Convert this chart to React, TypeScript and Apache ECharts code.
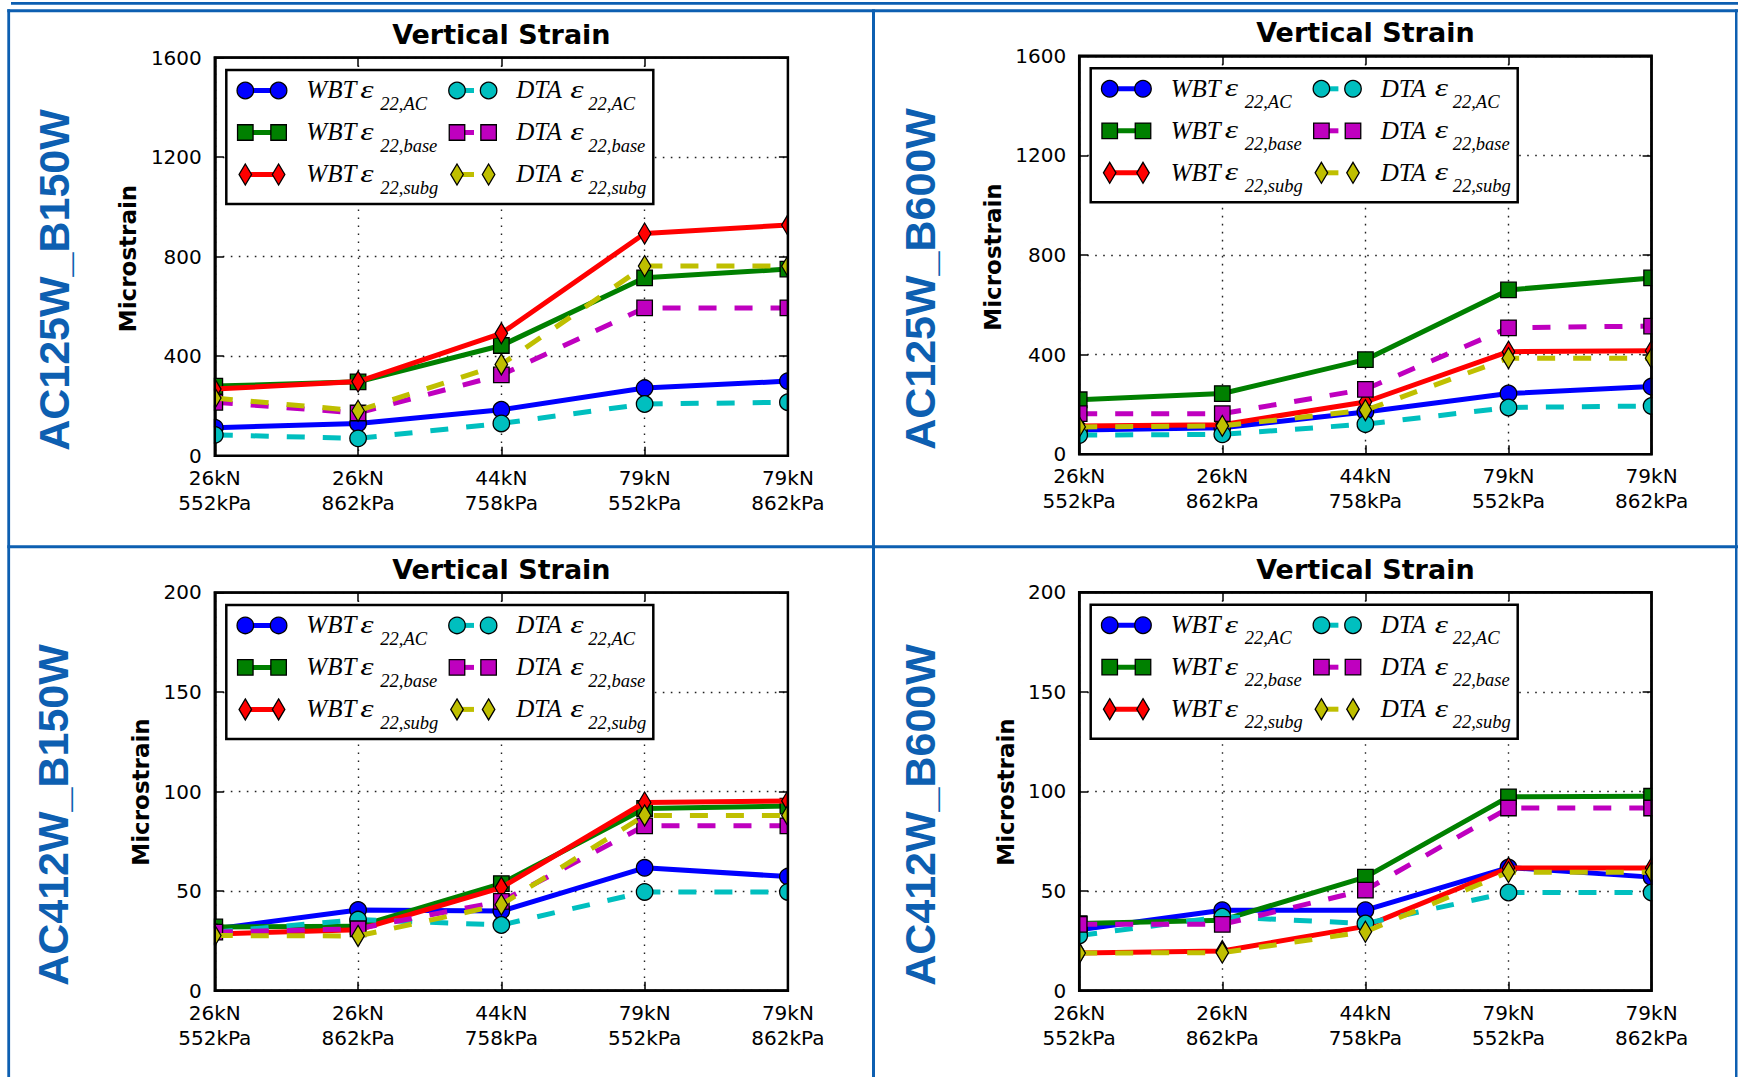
import React, { useEffect, useRef } from "react";
import * as echarts from "echarts";

// ---------- data ----------
const categories = ["26kN\n552kPa", "26kN\n862kPa", "44kN\n758kPa", "79kN\n552kPa", "79kN\n862kPa"];

const panelNames = ["AC125W_B150W", "AC125W_B600W", "AC412W_B150W", "AC412W_B600W"];
const chartTitle = "Vertical Strain";
const yAxisTitle = "Microstrain";
const yMax = [1600, 1600, 200, 200];
const yInterval = [400, 400, 50, 50];

const seriesPrefix = ["WBT", "WBT", "WBT", "DTA", "DTA", "DTA"];
const seriesSub = ["22,AC", "22,base", "22,subg", "22,AC", "22,base", "22,subg"];

// AC125W_B150W
const wbtAC_A = [113, 130, 185, 272, 300];
const wbtBase_A = [280, 297, 443, 715, 750];
const wbtSubg_A = [268, 298, 492, 893, 927];
const dtaAC_A = [84, 70, 130, 208, 215];
const dtaBase_A = [215, 172, 325, 594, 594];
const dtaSubg_A = [232, 181, 367, 762, 762];

// AC125W_B600W
const wbtAC_B = [98, 107, 170, 244, 272];
const wbtBase_B = [219, 244, 380, 660, 708];
const wbtSubg_B = [114, 119, 210, 412, 416];
const dtaAC_B = [77, 80, 121, 188, 194];
const dtaBase_B = [163, 163, 261, 508, 515];
const dtaSubg_B = [110, 114, 177, 386, 386];

// AC412W_B150W
const wbtAC_C = [31, 40.5, 40, 61.7, 57.3];
const wbtBase_C = [32, 32.3, 53.8, 91.5, 92.7];
const wbtSubg_C = [28.5, 30.6, 51.8, 94.5, 95.3];
const dtaAC_C = [29.4, 35.7, 33, 49.6, 49.6];
const dtaBase_C = [29.4, 31.1, 44.9, 82.8, 82.8];
const dtaSubg_C = [27.7, 27.5, 43.2, 88, 88];

// AC412W_B600W
const wbtAC_D = [30.6, 40.4, 40.4, 61.8, 57];
const wbtBase_D = [33.7, 35.4, 57, 97.3, 97.6];
const wbtSubg_D = [18.9, 19.9, 32.3, 61.6, 61.6];
const dtaAC_D = [27.7, 37.1, 33.7, 49.3, 49.3];
const dtaBase_D = [33.3, 33.3, 50.5, 91.7, 91.7];
const dtaSubg_D = [18.9, 19.1, 29.6, 59.5, 59.5];

const panelData = [
  [wbtAC_A, wbtBase_A, wbtSubg_A, dtaAC_A, dtaBase_A, dtaSubg_A],
  [wbtAC_B, wbtBase_B, wbtSubg_B, dtaAC_B, dtaBase_B, dtaSubg_B],
  [wbtAC_C, wbtBase_C, wbtSubg_C, dtaAC_C, dtaBase_C, dtaSubg_C],
  [wbtAC_D, wbtBase_D, wbtSubg_D, dtaAC_D, dtaBase_D, dtaSubg_D],
];

// ---------- styles / layout ----------
const STYLES = [
  { color: "#0000ff", symbol: "circle", dash: false },
  { color: "#008000", symbol: "rect", dash: false },
  { color: "#ff0000", symbol: "diamond", dash: false },
  { color: "#00bfbf", symbol: "circle", dash: true },
  { color: "#bf00bf", symbol: "rect", dash: true },
  { color: "#bfbf00", symbol: "diamond", dash: true },
];
const symSize = (s: string): any => (s === "circle" ? 16.5 : s === "rect" ? 15.5 : [12.5, 21]);

const PANELS = [
  { left: 214.8, top: 57.5, width: 573.1, height: 398.3, tag: [54, 280], yName: [128, 258.5] },
  { left: 1079.2, top: 55.8, width: 572.4, height: 398.5, tag: [919.7, 279], yName: [993, 257] },
  { left: 214.8, top: 592.4, width: 573.1, height: 398.3, tag: [52.7, 815], yName: [141, 792] },
  { left: 1079.2, top: 592.2, width: 572.4, height: 398.5, tag: [919.8, 815], yName: [1006, 792] },
];

const BLUE = "#0d5fb1";
const GRID_LINE = { color: "#222", width: 1.4, type: [1.6, 6.4] as any, cap: "butt" as any };
const TICK_FONT = { color: "#000", fontFamily: "DejaVu Sans", fontSize: 20 };

function legendMarker(kind: string, cx: number, cy: number, color: string, z: number): any {
  const style = { fill: color, stroke: "#000", lineWidth: 1.3 };
  if (kind === "circle") return { type: "circle", shape: { cx, cy, r: 8.25 }, style, z, silent: true };
  if (kind === "rect")
    return { type: "rect", shape: { x: cx - 7.75, y: cy - 7.75, width: 15.5, height: 15.5 }, style, z, silent: true };
  return {
    type: "polygon",
    shape: { points: [[cx, cy - 10.5], [cx + 6.25, cy], [cx, cy + 10.5], [cx - 6.25, cy]] },
    style,
    z,
    silent: true,
  };
}

function txt(x: number, y: number, text: string, font: string, extra: any = {}): any {
  return {
    type: "text",
    x,
    y,
    silent: true,
    z: extra.z ?? 110,
    rotation: extra.rotation ?? 0,
    scaleX: extra.scaleX ?? 1,
    style: {
      text,
      font,
      fill: extra.fill ?? "#000",
      textAlign: extra.align ?? "center",
      textVerticalAlign: "middle",
      align: extra.align ?? "center",
      verticalAlign: "middle",
    },
  };
}

function buildOption() {
  const grid: any[] = [];
  const xAxis: any[] = [];
  const yAxis: any[] = [];
  const series: any[] = [];
  const graphic: any[] = [];

  // blue frame
  const frameRects = [
    { x: 11, y: 2, width: 1727, height: 2.8 },
    { x: 7.3, y: 9.3, width: 1730.7, height: 3 },
    { x: 7.3, y: 9.3, width: 2.8, height: 1068 },
    { x: 872, y: 9.3, width: 3, height: 1068 },
    { x: 7.3, y: 545.3, width: 1730.7, height: 3 },
    { x: 1735, y: 9.3, width: 2.5, height: 1068 },
  ];
  frameRects.forEach((r) => graphic.push({ type: "rect", shape: r, style: { fill: BLUE }, z: 200, silent: true }));

  PANELS.forEach((p, g) => {
    grid.push({ left: p.left, top: p.top, width: p.width, height: p.height, containLabel: false });

    const axisLine = { show: true, onZero: false, lineStyle: { color: "#000", width: 2.5 } };
    const tick = { show: true, inside: true, length: 9, lineStyle: { color: "#000", width: 1.5 } };

    xAxis.push({
      type: "category",
      gridIndex: g,
      position: "bottom",
      data: categories,
      boundaryGap: false,
      axisLine,
      axisTick: { ...tick, interval: 0 },
      axisLabel: { show: true, interval: 0, margin: 9.4, lineHeight: 25, ...TICK_FONT },
      splitLine: { show: true, interval: 0, lineStyle: GRID_LINE },
    });
    xAxis.push({
      type: "category",
      gridIndex: g,
      position: "top",
      data: categories,
      boundaryGap: false,
      axisLine,
      axisTick: { ...tick, interval: 0 },
      axisLabel: { show: false },
      splitLine: { show: false },
    });
    yAxis.push({
      type: "value",
      gridIndex: g,
      position: "left",
      min: 0,
      max: yMax[g],
      interval: yInterval[g],
      axisLine,
      axisTick: tick,
      axisLabel: { show: true, margin: 13, formatter: (v: number) => String(v), ...TICK_FONT },
      splitLine: { show: true, lineStyle: GRID_LINE },
    });
    yAxis.push({
      type: "value",
      gridIndex: g,
      position: "right",
      min: 0,
      max: yMax[g],
      interval: yInterval[g],
      axisLine,
      axisTick: tick,
      axisLabel: { show: false },
      splitLine: { show: false },
    });

    panelData[g].forEach((d, k) => {
      const st = STYLES[k];
      series.push({
        type: "line",
        name: `${seriesPrefix[k]} ε${seriesSub[k]}`,
        xAxisIndex: 2 * g,
        yAxisIndex: 2 * g,
        data: d,
        z: 3 + k,
        symbol: st.symbol,
        symbolSize: symSize(st.symbol),
        showSymbol: true,
        showAllSymbol: true,
        silent: true,
        emphasis: { disabled: true },
        lineStyle: { color: st.color, width: 5, type: st.dash ? [18, 18] : "solid", cap: "butt", join: "round" },
        itemStyle: { color: st.color, borderColor: "#000", borderWidth: 1.3 },
      });
    });

    const L = p.left, T = p.top, W = p.width, H = p.height;
    // white strips clip overflowing markers like matplotlib's axes clipping
    [
      { x: L - 11, y: T - 11, width: 10, height: H + 22 },
      { x: L + W + 1, y: T - 11, width: 10, height: H + 22 },
      { x: L - 11, y: T - 11, width: W + 22, height: 10 },
      { x: L - 11, y: T + H + 1, width: W + 22, height: 9.5 },
    ].forEach((r) => graphic.push({ type: "rect", shape: r, style: { fill: "#fff" }, z: 50, silent: true }));
    graphic.push({
      type: "rect",
      shape: { x: L, y: T, width: W, height: H },
      style: { fill: "none", stroke: "#000", lineWidth: 2.5 },
      z: 60,
      silent: true,
    });

    // titles and labels
    graphic.push(txt(L + W / 2, T - 23, chartTitle, 'bold 27px "DejaVu Sans"'));
    graphic.push(txt(p.tag[0], p.tag[1], panelNames[g], 'bold 43px "Liberation Sans"', { rotation: Math.PI / 2, fill: BLUE }));
    graphic.push(txt(p.yName[0], p.yName[1], yAxisTitle, 'bold 23px "DejaVu Sans"', { rotation: Math.PI / 2 }));

    // legend
    const bx = L + 11.5, by = T + 12.5;
    graphic.push({
      type: "rect",
      shape: { x: bx, y: by, width: 427, height: 134 },
      style: { fill: "#fff", stroke: "#000", lineWidth: 2.5 },
      z: 100,
      silent: true,
    });
    STYLES.forEach((st, k) => {
      const col = k < 3 ? 0 : 1;
      const row = k % 3;
      const cy = by + 20.5 + row * 42;
      const x1 = bx + (col ? 230.7 : 19);
      const x2 = bx + (col ? 262.3 : 52.3);
      graphic.push({
        type: "line",
        shape: { x1, y1: cy, x2: st.dash ? x1 + 17 : x2, y2: cy },
        style: { stroke: st.color, lineWidth: 5 },
        z: 101,
        silent: true,
      });
      graphic.push(legendMarker(st.symbol, x1, cy, st.color, 102));
      graphic.push(legendMarker(st.symbol, x2, cy, st.color, 102));
      const tx = bx + (col ? 290 : 80);
      graphic.push(txt(tx, cy - 0.8, seriesPrefix[k], 'italic 25px "Liberation Serif"', { align: "left" }));
      graphic.push(txt(tx + 54, cy - 0.8, "ε", 'italic 25px "Liberation Serif"', { align: "left", scaleX: 1.35 }));
      graphic.push(txt(tx + (col ? 72 : 74), cy + 13.2, seriesSub[k], 'italic 18.5px "Liberation Serif"', { align: "left" }));
    });
  });

  return {
    animation: false,
    backgroundColor: "#fff",
    grid,
    xAxis,
    yAxis,
    series,
    graphic: { elements: graphic },
  };
}

export default function App() {
  const ref = useRef<HTMLDivElement>(null);
  useEffect(() => {
    if (!ref.current) return;
    const chart = echarts.init(ref.current, null, { renderer: "svg" });
    chart.setOption(buildOption() as any);
    return () => chart.dispose();
  }, []);
  return (
    <div
      ref={ref}
      style={{ position: "absolute", left: 0, top: 0, width: 1738, height: 1077, background: "#fff" }}
    />
  );
}
